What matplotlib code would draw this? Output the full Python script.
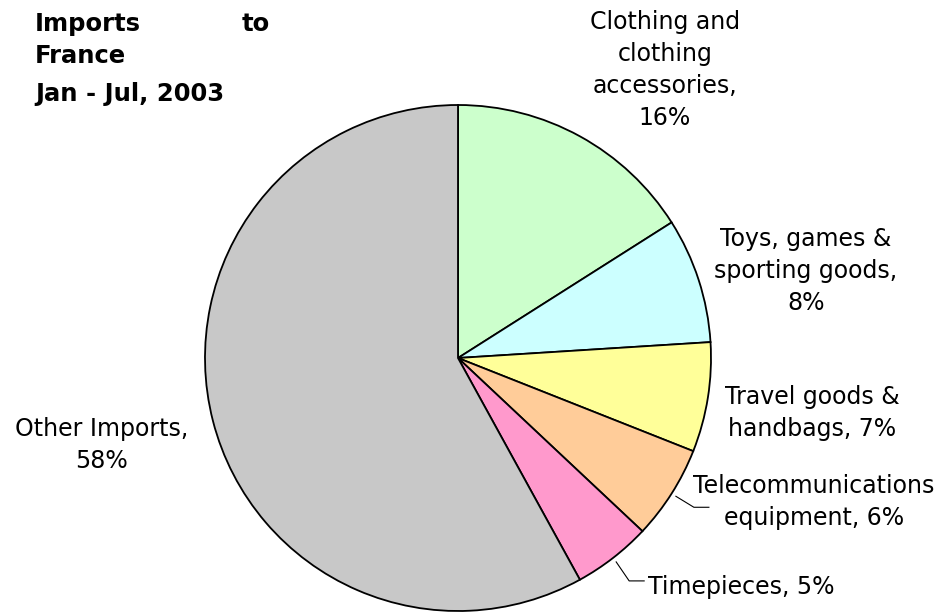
import numpy as np
import matplotlib.pyplot as plt

# data
categories = ["Clothing and\nclothing\naccessories", "Toys, games &\nsporting goods",
              "Travel goods &\nhandbags", "Telecommunications\nequipment",
              "Timepieces", "Other Imports"]
shares = [16, 8, 7, 6, 5, 58]
colors = ["#CCFFCC", "#CCFFFF", "#FFFF99", "#FFCC99", "#FF99CC", "#C8C8C8"]

W, H = 941, 615
fig = plt.figure(figsize=(W / 100, H / 100), dpi=100)
ax = fig.add_axes([0, 0, 1, 1])

cx, cy, r = 458, H - 358, 253
wedges, _ = ax.pie(shares, colors=colors, startangle=90, counterclock=False,
                   center=(cx, cy), radius=r,
                   wedgeprops=dict(edgecolor="black", linewidth=1.3))
ax.set_xlim(0, W)
ax.set_ylim(0, H)
ax.set_aspect("equal")
ax.axis("off")

fs = 17


def label(i, x, y, ha="center"):
    txt = categories[i].replace("\n", " ") if i >= 4 else categories[i]
    txt = f"{txt},\n{shares[i]}%" if i in (0, 1, 5) else f"{txt}, {shares[i]}%"
    ax.text(x, H - y, txt, ha=ha, va="center", multialignment="center",
            fontsize=fs, linespacing=1.42, color="black")


label(0, 665, 70)
label(1, 806, 271)
label(2, 812, 413)
label(3, 814, 502)
label(4, 648, 587, ha="left")
label(5, 102, 445)

# leader lines for the small slices
for i, (dx, dy) in [(3, (18, -11)), (4, (13, -19))]:
    w = wedges[i]
    mid = np.deg2rad((w.theta1 + w.theta2) / 2)
    x0 = cx + r * 1.02 * np.cos(mid)
    y0 = cy + r * 1.02 * np.sin(mid)
    ax.plot([x0, x0 + dx, x0 + dx + 15], [y0, y0 + dy, y0 + dy],
            color="black", lw=0.8)

# title
tkw = dict(fontsize=17.5, fontweight="bold", va="center")
ax.text(35, H - 24, "Imports", ha="left", **tkw)
ax.text(270, H - 24, "to", ha="right", **tkw)
ax.text(35, H - 56, "France", ha="left", **tkw)
ax.text(35, H - 94, "Jan - Jul, 2003", ha="left", **tkw)

fig.savefig("out.png", dpi=100)
